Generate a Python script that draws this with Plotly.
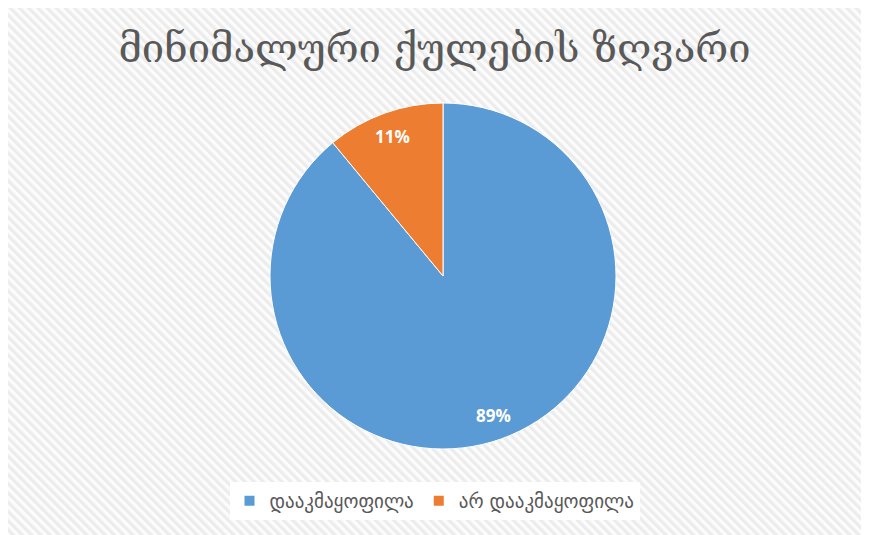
import base64
import math
import plotly.graph_objects as go

title_text = "მინიმალური ქულების ზღვარი"
categories = ["დააკმაყოფილა", "არ დააკმაყოფილა"]
values = [89, 11]
colors = ["#5B9BD5", "#ED7D31"]

W, H = 853, 527

# striped background pattern as an SVG image
svg = (
    f"<svg xmlns='http://www.w3.org/2000/svg' width='{W}' height='{H}' viewBox='0 0 {W} {H}'>"
    "<defs><pattern id='p' width='6.5' height='6.5' patternUnits='userSpaceOnUse' "
    "patternTransform='rotate(-45)'>"
    "<rect width='6.5' height='6.5' fill='#fcfcfc'/>"
    "<rect width='3.2' height='6.5' fill='#ececec'/></pattern></defs>"
    f"<rect width='{W}' height='{H}' fill='url(#p)'/></svg>"
)
src = "data:image/svg+xml;base64," + base64.b64encode(svg.encode()).decode()

cx, cy, r = 435, 268, 173
dom_x = [(cx - r) / W, (cx + r) / W]
dom_y = [(H - cy - r) / H, (H - cy + r) / H]

fig = go.Figure(
    go.Pie(
        labels=categories,
        values=values,
        sort=False,
        direction="clockwise",
        rotation=0,
        marker=dict(colors=colors, line=dict(color="white", width=1)),
        textinfo="none",
        hoverinfo="skip",
        domain=dict(x=dom_x, y=dom_y),
    )
)

# percentage labels placed along each slice's mid-angle (Excel best-fit style)
label_frac = 0.86
total = sum(values)
cum = 0
annotations = []
for v in values:
    mid = (cum + v / 2) / total * 2 * math.pi
    cum += v
    px = cx + label_frac * r * math.sin(mid)
    py = cy - label_frac * r * math.cos(mid)
    annotations.append(
        dict(
            x=px / W,
            y=1 - py / H,
            xref="paper",
            yref="paper",
            text=f"{round(v / total * 100)}%",
            showarrow=False,
            font=dict(family="Open Sans", size=17, color="white", weight="bold"),
            xanchor="center",
            yanchor="middle",
        )
    )

fig.update_layout(
    width=W,
    height=H,
    margin=dict(l=0, r=0, t=0, b=0),
    paper_bgcolor="white",
    images=[
        dict(
            source=src,
            xref="paper",
            yref="paper",
            x=0,
            y=1,
            sizex=1,
            sizey=1,
            xanchor="left",
            yanchor="top",
            sizing="stretch",
            layer="below",
        )
    ],
    annotations=annotations,
    title=dict(
        text=title_text,
        x=0.5,
        xanchor="center",
        y=1 - 40 / H,
        yanchor="middle",
        font=dict(family="DejaVu Serif", size=40, color="#595959"),
    ),
    showlegend=True,
    legend=dict(
        orientation="h",
        x=0.5,
        xanchor="center",
        y=1 - 493 / H,
        yanchor="middle",
        bgcolor="white",
        font=dict(family="DejaVu Sans", size=19, color="#595959"),
        itemsizing="constant",
        traceorder="normal",
    ),
)

fig.write_html("out.html")
